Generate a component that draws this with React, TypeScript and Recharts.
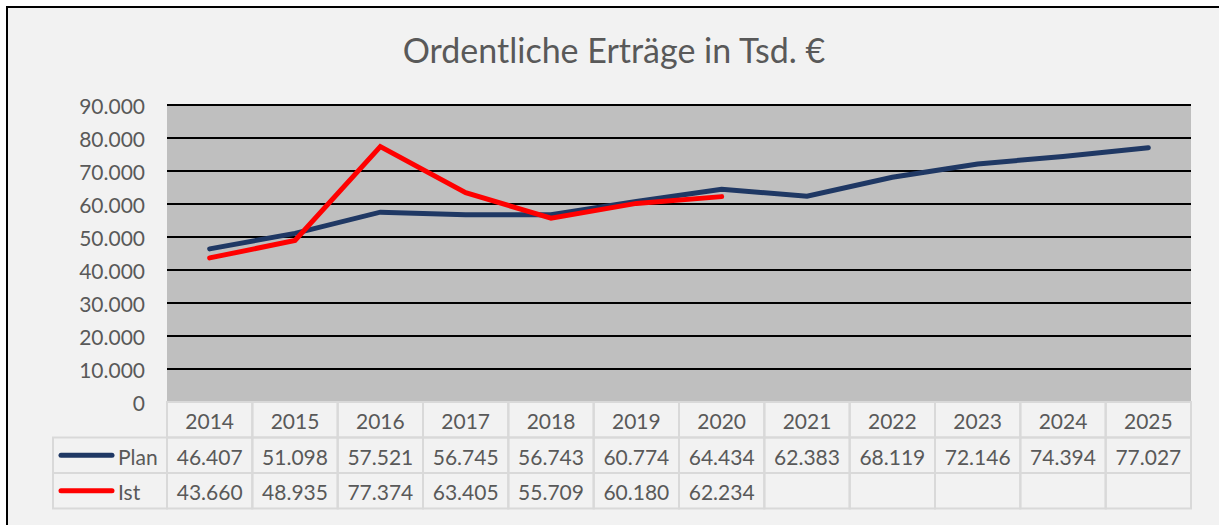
import { LineChart, Line, XAxis, YAxis, ReferenceLine, CartesianGrid } from "recharts";

const years = ["2014", "2015", "2016", "2017", "2018", "2019", "2020", "2021", "2022", "2023", "2024", "2025"];
const plan = [46407, 51098, 57521, 56745, 56743, 60774, 64434, 62383, 68119, 72146, 74394, 77027];
const ist: (number | null)[] = [43660, 48935, 77374, 63405, 55709, 60180, 62234, null, null, null, null, null];
const yTicks = [0, 10000, 20000, 30000, 40000, 50000, 60000, 70000, 80000, 90000];

const PLAN_COLOR = "#1f3864";
const IST_COLOR = "#ff0000";
const TEXT = "#595959";
const CELL_LINE = "#d9d9d9";
const FONT = "Lato, 'Open Sans', sans-serif";

const W = 1219;
const H = 525;
const PLOT_LEFT = 167;
const PLOT_RIGHT = 1191;
const COL_W = (PLOT_RIGHT - PLOT_LEFT) / years.length;
const ROW_H = 35.5;
const LABEL_W = 114;
const FS = 21;

const data = years.map((year, i) => ({ year, plan: plan[i], ist: ist[i] }));

function fmt(v: number | null) {
  if (v == null) return "";
  return String(v).replace(/\B(?=(\d{3})+(?!\d))/g, ".");
}

function YTick({ y, payload }: any) {
  return (
    <text x={145} y={y} textAnchor="end" dominantBaseline="central" fill={TEXT} fontSize={FS} fontFamily={FONT}>
      {fmt(payload.value)}
    </text>
  );
}

function TableTick({ x, y, payload, index }: any) {
  const left = x - COL_W / 2;
  const rows = [payload.value, fmt(plan[index]), fmt(ist[index])];
  return (
    <g>
      {rows.map((txt, r) => (
        <g key={r}>
          <rect x={left} y={y + r * ROW_H} width={COL_W} height={ROW_H} fill="none" stroke={CELL_LINE} strokeWidth={2} />
          <text
            x={x}
            y={y + r * ROW_H + ROW_H / 2 + 1}
            textAnchor="middle"
            dominantBaseline="central"
            fill={TEXT}
            fontSize={FS}
            fontFamily={FONT}
          >
            {txt}
          </text>
        </g>
      ))}
      {index === 0 &&
        [
          { name: "Plan", color: PLAN_COLOR },
          { name: "Ist", color: IST_COLOR },
        ].map((s, r) => {
          const ry = y + (r + 1) * ROW_H;
          const lx = left - LABEL_W;
          return (
            <g key={s.name}>
              <rect x={lx} y={ry} width={LABEL_W} height={ROW_H} fill="none" stroke={CELL_LINE} strokeWidth={2} />
              <line x1={lx + 8} x2={lx + 59} y1={ry + ROW_H / 2} y2={ry + ROW_H / 2} stroke={s.color} strokeWidth={5} strokeLinecap="round" />
              <text x={lx + 65} y={ry + ROW_H / 2 + 1} dominantBaseline="central" fill={TEXT} fontSize={FS} fontFamily={FONT}>
                {s.name}
              </text>
            </g>
          );
        })}
    </g>
  );
}

export default function App() {
  return (
    <div style={{ position: "absolute", left: 0, top: 0, width: W, height: H, background: "#fff", overflow: "hidden" }}>
      <div
        style={{
          position: "absolute",
          left: 6,
          top: 6,
          width: W + 20,
          height: H + 20,
          background: "#f2f2f2",
          borderTop: "2px solid #000",
          borderLeft: "2px solid #000",
        }}
      />
      <div
        style={{
          position: "absolute",
          left: 0,
          top: 28,
          width: 1228,
          textAlign: "center",
          fontFamily: FONT,
          fontSize: 34,
          lineHeight: "44px",
          color: TEXT,
        }}
      >
        Ordentliche Erträge in Tsd. €
      </div>
      <div style={{ position: "absolute", left: 0, top: 0 }}>
        <LineChart width={W} height={H} data={data} margin={{ top: 105, right: W - PLOT_RIGHT, bottom: 0, left: 0 }}>
          <CartesianGrid fill="#bfbfbf" horizontal={false} vertical={false} />
          {yTicks
            .filter((v) => v > 0)
            .map((v) => (
              <ReferenceLine key={v} y={v} stroke="#000" strokeWidth={2} />
            ))}
          <XAxis
            dataKey="year"
            height={123}
            axisLine={false}
            tickLine={false}
            tickSize={0}
            tickMargin={0}
            interval={0}
            padding={{ left: COL_W / 2, right: COL_W / 2 }}
            tick={<TableTick />}
          />
          <YAxis width={PLOT_LEFT} domain={[0, 90000]} ticks={yTicks} axisLine={false} tickLine={false} tick={<YTick />} />
          <Line dataKey="plan" stroke={PLAN_COLOR} strokeWidth={5} dot={false} isAnimationActive={false} strokeLinecap="round" />
          <Line dataKey="ist" stroke={IST_COLOR} strokeWidth={5} dot={false} isAnimationActive={false} strokeLinecap="round" />
        </LineChart>
      </div>
    </div>
  );
}
